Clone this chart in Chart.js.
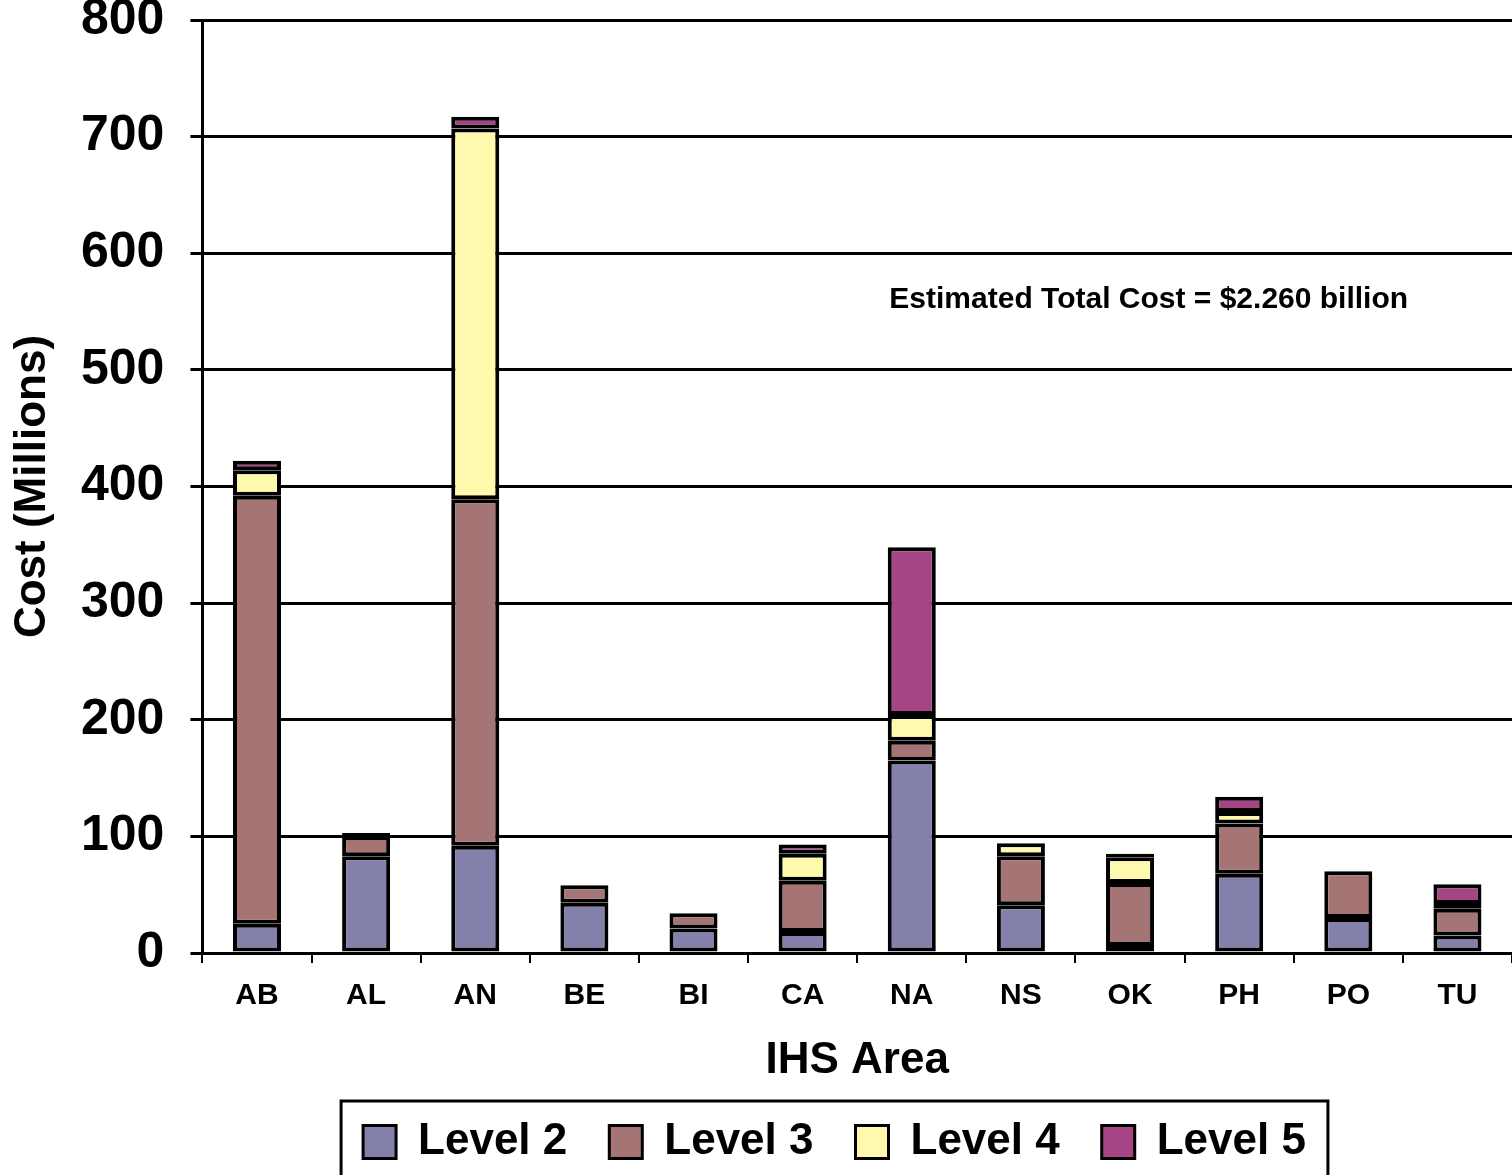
<!DOCTYPE html>
<html>
<head>
<meta charset="utf-8">
<script src="https://cdn.jsdelivr.net/npm/chart.js@4.4.1/dist/chart.umd.min.js"></script>
<style>
  html, body { margin: 0; padding: 0; background: #fff; }
  #wrap { width: 1512px; height: 1175px; }
</style>
</head>
<body>
<div id="wrap"><canvas id="cost-chart"></canvas></div>
<script>
var areas = ["AB", "AL", "AN", "BE", "BI", "CA", "NA", "NS", "OK", "PH", "PO", "TU"];
var level2 = [25, 83, 92, 43, 21, 18, 165, 41, 6, 68, 30, 15];
var level3 = [367, 17, 297, 15, 13, 44, 17, 42, 54, 43, 40, 23];
var level4 = [22, 3, 318, 0, 0, 23, 22, 11, 22, 10, 0, 4];
var level5 = [8, 0, 10, 0, 0, 8, 144, 0, 3, 13, 0, 17];
var yTicks = [0, 100, 200, 300, 400, 500, 600, 700, 800];
var note = "Estimated Total Cost = $2.260 billion";

var font = "'Liberation Sans', Arial, sans-serif";

function series(label, data, color) {
  return {
    label: label,
    // empty segments are left out so they don't draw a black border line
    data: data.map(function (v) { return v === 0 ? null : v; }),
    backgroundColor: color,
    borderColor: "#000",
    borderWidth: 4,
    borderSkipped: false,
    barPercentage: 0.44,
    categoryPercentage: 1.0,
  };
}

var notePlugin = {
  id: "note",
  afterDraw: function (chart) {
    var ctx = chart.ctx;
    var area = chart.chartArea;
    var y = chart.scales.y;
    ctx.save();
    ctx.font = "bold 30px " + font;
    ctx.fillStyle = "#000";
    ctx.textAlign = "center";
    ctx.textBaseline = "middle";
    ctx.fillText(note, area.left + (area.right - area.left) * 0.7226, y.getPixelForValue(560));
    ctx.restore();
  },
};

// move the legend under the plot like the original, and frame it
var legendBox = {
  id: "legendBox",
  afterLayout: function (chart) {
    var lg = chart.legend;
    lg.left += 76;
    lg.right += 76;
    lg.top -= 5;
    lg.bottom -= 5;
  },
  afterDraw: function (chart) {
    var boxes = chart.legend.legendHitBoxes;
    if (!boxes || !boxes.length) return;
    var left = boxes[0].left - 22;
    var last = boxes[boxes.length - 1];
    var right = last.left + last.width + 22;
    var ctx = chart.ctx;
    ctx.save();
    ctx.strokeStyle = "#000";
    ctx.lineWidth = 3;
    ctx.strokeRect(left, 1101, right - left, 90);
    ctx.restore();
  },
};

var costChart = new Chart(document.getElementById("cost-chart"), {
  type: "bar",
  data: {
    labels: areas,
    datasets: [
      series("Level 2", level2, "#8381AC"),
      series("Level 3", level3, "#A57575"),
      series("Level 4", level4, "#FFF9AE"),
      series("Level 5", level5, "#A54585"),
    ],
  },
  options: {
    responsive: true,
    maintainAspectRatio: false,
    animation: false,
    layout: {
      padding: { top: 20, right: 0, left: 5, bottom: -4 },
    },
    plugins: {
      tooltip: { enabled: false },
      legend: {
        position: "bottom",
        labels: {
          font: { family: font, size: 44, weight: "bold", lineHeight: 1 },
          color: "#000",
          boxWidth: 33,
          boxHeight: 33,
          padding: 42,
          generateLabels: function (chart) {
            return chart.data.datasets.map(function (ds, i) {
              return {
                text: ds.label,
                fillStyle: ds.backgroundColor,
                strokeStyle: "#000",
                lineWidth: 3,
                datasetIndex: i,
                fontColor: "#000",
              };
            });
          },
        },
      },
    },
    scales: {
      x: {
        stacked: true,
        grid: {
          drawOnChartArea: false,
          drawTicks: true,
          tickLength: 10,
          color: "#000",
          lineWidth: 2,
        },
        border: { color: "#000", width: 3 },
        ticks: {
          color: "#000",
          font: { family: font, size: 30, weight: "bold", lineHeight: 1.2 },
          padding: 15,
        },
        title: {
          display: true,
          text: "IHS Area",
          color: "#000",
          font: { family: font, size: 44, weight: "bold", lineHeight: 1 },
          padding: { top: 10, bottom: 0 },
        },
      },
      y: {
        stacked: true,
        min: 0,
        max: 800,
        afterBuildTicks: function (axis) {
          axis.ticks = yTicks.map(function (v) { return { value: v }; });
        },
        afterFit: function (axis) {
          // let the plot start near the top edge, as in the original
          axis.paddingTop = 0;
          axis.paddingBottom = 0;
        },
        grid: {
          color: "#000",
          lineWidth: 3,
          tickLength: 12,
        },
        border: { color: "#000", width: 3 },
        ticks: {
          color: "#000",
          font: { family: font, size: 50, weight: "bold", lineHeight: 0.8 },
          padding: 26,
        },
        title: {
          display: true,
          text: "Cost (Millions)",
          color: "#000",
          font: { family: font, size: 44, weight: "bold", lineHeight: 1 },
          padding: { top: 6, bottom: 0 },
        },
      },
    },
  },
  plugins: [notePlugin, legendBox],
});
</script>
</body>
</html>
